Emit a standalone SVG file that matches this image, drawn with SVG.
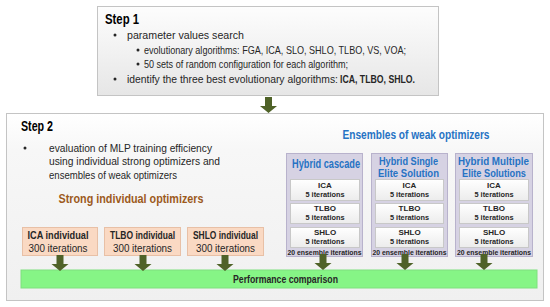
<svg xmlns="http://www.w3.org/2000/svg" width="550" height="307" viewBox="0 0 550 307">
<defs>
<linearGradient id="g1" x1="0" y1="0" x2="0" y2="1"><stop offset="0" stop-color="#fdfdfd"/><stop offset="1" stop-color="#e6e6e6"/></linearGradient>
<linearGradient id="g2" x1="0" y1="0" x2="0" y2="1"><stop offset="0" stop-color="#ffffff"/><stop offset="0.2" stop-color="#f7f7f7"/><stop offset="1" stop-color="#f0f0f0"/></linearGradient>
<linearGradient id="g3" x1="0" y1="0" x2="0" y2="1"><stop offset="0" stop-color="#ffffff"/><stop offset="1" stop-color="#ececec"/></linearGradient>
<path id="arr" d="M-3.5,0 H3.5 V9 H8.5 L0,16 L-8.5,9 H-3.5 Z" fill="#4f6228"/>
</defs>
<style>
text{font-family:"Liberation Sans",Arial,sans-serif;fill:#262626}
.b{font-weight:bold}
.step{font-size:14px;font-weight:bold;fill:#000}
.body{font-size:10.5px}
.blue{fill:#2673c4;font-weight:bold;font-size:12px}
.bt{fill:#2673c4;font-weight:bold;font-size:11px}
.brown{fill:#9c5a1c;font-weight:bold;font-size:12px}
.in{font-size:8px;font-weight:bold;text-anchor:middle}
.sb{font-size:10px;text-anchor:middle}
.hy{fill:#d6d2e3;stroke:#b8b2cc;stroke-width:1}
.ib{fill:url(#g3);stroke:#c8c8c8;stroke-width:1}
.sbox{fill:#fad9c3;stroke:#e8c0a6;stroke-width:1}
.m{text-anchor:middle}
</style>
<g id="step1">
<rect x="97.5" y="6.5" width="341" height="89" fill="url(#g1)" stroke="#c4c4c4"/>
<text class="step" x="105" y="24" textLength="34" lengthAdjust="spacingAndGlyphs">Step 1</text>
<circle cx="115" cy="35" r="1.5" fill="#262626"/>
<text class="body" x="127" y="38.5" textLength="117" lengthAdjust="spacingAndGlyphs">parameter values search</text>
<circle cx="138" cy="50" r="1.5" fill="#262626"/>
<text class="body" x="144" y="53.5" textLength="262" lengthAdjust="spacingAndGlyphs">evolutionary algorithms: FGA, ICA, SLO, SHLO, TLBO, VS, VOA;</text>
<circle cx="138" cy="64" r="1.5" fill="#262626"/>
<text class="body" x="144" y="67.5" textLength="204" lengthAdjust="spacingAndGlyphs">50 sets of random configuration for each algorithm;</text>
<circle cx="115" cy="79" r="1.5" fill="#262626"/>
<text class="body" x="127" y="82.5" textLength="211" lengthAdjust="spacingAndGlyphs">identify the three best evolutionary algorithms:</text>
<text class="body b" x="340" y="82.5" textLength="75" lengthAdjust="spacingAndGlyphs">ICA, TLBO, SHLO.</text>
</g>
<g id="step2">
<rect x="6.5" y="113.5" width="537" height="187" fill="url(#g2)" stroke="#c4c4c4"/>
<text class="step" x="21" y="131" textLength="32" lengthAdjust="spacingAndGlyphs">Step 2</text>
<circle cx="25" cy="148" r="1.5" fill="#262626"/>
<text class="body" x="49" y="151.5" textLength="163" lengthAdjust="spacingAndGlyphs">evaluation of MLP training efficiency</text>
<text class="body" x="49" y="165" textLength="171" lengthAdjust="spacingAndGlyphs">using individual strong optimizers and</text>
<text class="body" x="49" y="178.5" textLength="128" lengthAdjust="spacingAndGlyphs">ensembles of weak optimizers</text>
<text class="brown m" x="131" y="203" textLength="145" lengthAdjust="spacingAndGlyphs">Strong individual optimizers</text>
<text class="blue m" x="416" y="139" textLength="147" lengthAdjust="spacingAndGlyphs">Ensembles of weak optimizers</text>
</g>
<g id="ica-ind">
<rect class="sbox" x="22.5" y="227.5" width="75" height="28"/>
<text class="sb b" x="58" y="239" textLength="61" lengthAdjust="spacingAndGlyphs">ICA individual</text>
<text class="sb" x="58" y="252" textLength="59" lengthAdjust="spacingAndGlyphs">300 iterations</text>
</g>
<g id="tlbo-ind">
<rect class="sbox" x="104.5" y="227.5" width="76" height="28"/>
<text class="sb b" x="142.5" y="239" textLength="65" lengthAdjust="spacingAndGlyphs">TLBO individual</text>
<text class="sb" x="142.5" y="252" textLength="59" lengthAdjust="spacingAndGlyphs">300 iterations</text>
</g>
<g id="shlo-ind">
<rect class="sbox" x="187.5" y="227.5" width="76" height="28"/>
<text class="sb b" x="225.5" y="239" textLength="65" lengthAdjust="spacingAndGlyphs">SHLO individual</text>
<text class="sb" x="225.5" y="252" textLength="59" lengthAdjust="spacingAndGlyphs">300 iterations</text>
</g>
<g id="hybrid-cascade">
<rect class="hy" x="286.5" y="153.5" width="76" height="103"/>
<text class="blue m" x="326" y="168" textLength="68" lengthAdjust="spacingAndGlyphs">Hybrid cascade</text>
<rect class="ib" x="290.5" y="179.5" width="69" height="21"/>
<text class="in" x="325" y="188">ICA</text><text class="in" x="325" y="197" textLength="39" lengthAdjust="spacingAndGlyphs">5 iterations</text>
<rect class="ib" x="290.5" y="203.5" width="69" height="20"/>
<text class="in" x="325" y="211">TLBO</text><text class="in" x="325" y="220" textLength="39" lengthAdjust="spacingAndGlyphs">5 iterations</text>
<rect class="ib" x="290.5" y="227.5" width="69" height="20"/>
<text class="in" x="325" y="235">SHLO</text><text class="in" x="325" y="244" textLength="39" lengthAdjust="spacingAndGlyphs">5 iterations</text>
<text class="in" x="324.5" y="255" textLength="74" lengthAdjust="spacingAndGlyphs">20 ensemble iterations</text>
</g>
<g id="hybrid-single">
<rect class="hy" x="371.5" y="153.5" width="76" height="103"/>
<text class="bt m" x="408.5" y="165" textLength="59" lengthAdjust="spacingAndGlyphs">Hybrid Single</text>
<text class="bt m" x="408.5" y="177" textLength="61" lengthAdjust="spacingAndGlyphs">Elite Solution</text>
<rect class="ib" x="375.5" y="179.5" width="68" height="21"/>
<text class="in" x="409.5" y="188">ICA</text><text class="in" x="409.5" y="197" textLength="39" lengthAdjust="spacingAndGlyphs">5 iterations</text>
<rect class="ib" x="375.5" y="203.5" width="68" height="20"/>
<text class="in" x="409.5" y="211">TLBO</text><text class="in" x="409.5" y="220" textLength="39" lengthAdjust="spacingAndGlyphs">5 iterations</text>
<rect class="ib" x="375.5" y="227.5" width="68" height="20"/>
<text class="in" x="409.5" y="235">SHLO</text><text class="in" x="409.5" y="244" textLength="39" lengthAdjust="spacingAndGlyphs">5 iterations</text>
<text class="in" x="409.5" y="255" textLength="74" lengthAdjust="spacingAndGlyphs">20 ensemble iterations</text>
</g>
<g id="hybrid-multiple">
<rect class="hy" x="455.5" y="153.5" width="77" height="103"/>
<text class="bt m" x="493.5" y="165" textLength="71" lengthAdjust="spacingAndGlyphs">Hybrid Multiple</text>
<text class="bt m" x="494" y="177" textLength="64" lengthAdjust="spacingAndGlyphs">Elite Solutions</text>
<rect class="ib" x="459.5" y="179.5" width="69" height="21"/>
<text class="in" x="494" y="188">ICA</text><text class="in" x="494" y="197" textLength="39" lengthAdjust="spacingAndGlyphs">5 iterations</text>
<rect class="ib" x="459.5" y="203.5" width="69" height="20"/>
<text class="in" x="494" y="211">TLBO</text><text class="in" x="494" y="220" textLength="39" lengthAdjust="spacingAndGlyphs">5 iterations</text>
<rect class="ib" x="459.5" y="227.5" width="69" height="20"/>
<text class="in" x="494" y="235">SHLO</text><text class="in" x="494" y="244" textLength="39" lengthAdjust="spacingAndGlyphs">5 iterations</text>
<text class="in" x="494" y="255" textLength="74" lengthAdjust="spacingAndGlyphs">20 ensemble iterations</text>
</g>
<g id="performance">
<rect x="21" y="270" width="516" height="18" fill="#86f586" stroke="#7ee07e"/>
<text class="b m" x="285.5" y="283" font-size="11" fill="#1a1a1a" textLength="105" lengthAdjust="spacingAndGlyphs">Performance comparison</text>
</g>
<g id="connectors">
<use href="#arr" x="268.5" y="97"/>
<use href="#arr" x="60" y="255"/>
<use href="#arr" x="143" y="255"/>
<use href="#arr" x="225" y="255"/>
<use href="#arr" x="323" y="254"/>
<use href="#arr" x="405" y="254"/>
<use href="#arr" x="484" y="254"/>
</g>
</svg>
